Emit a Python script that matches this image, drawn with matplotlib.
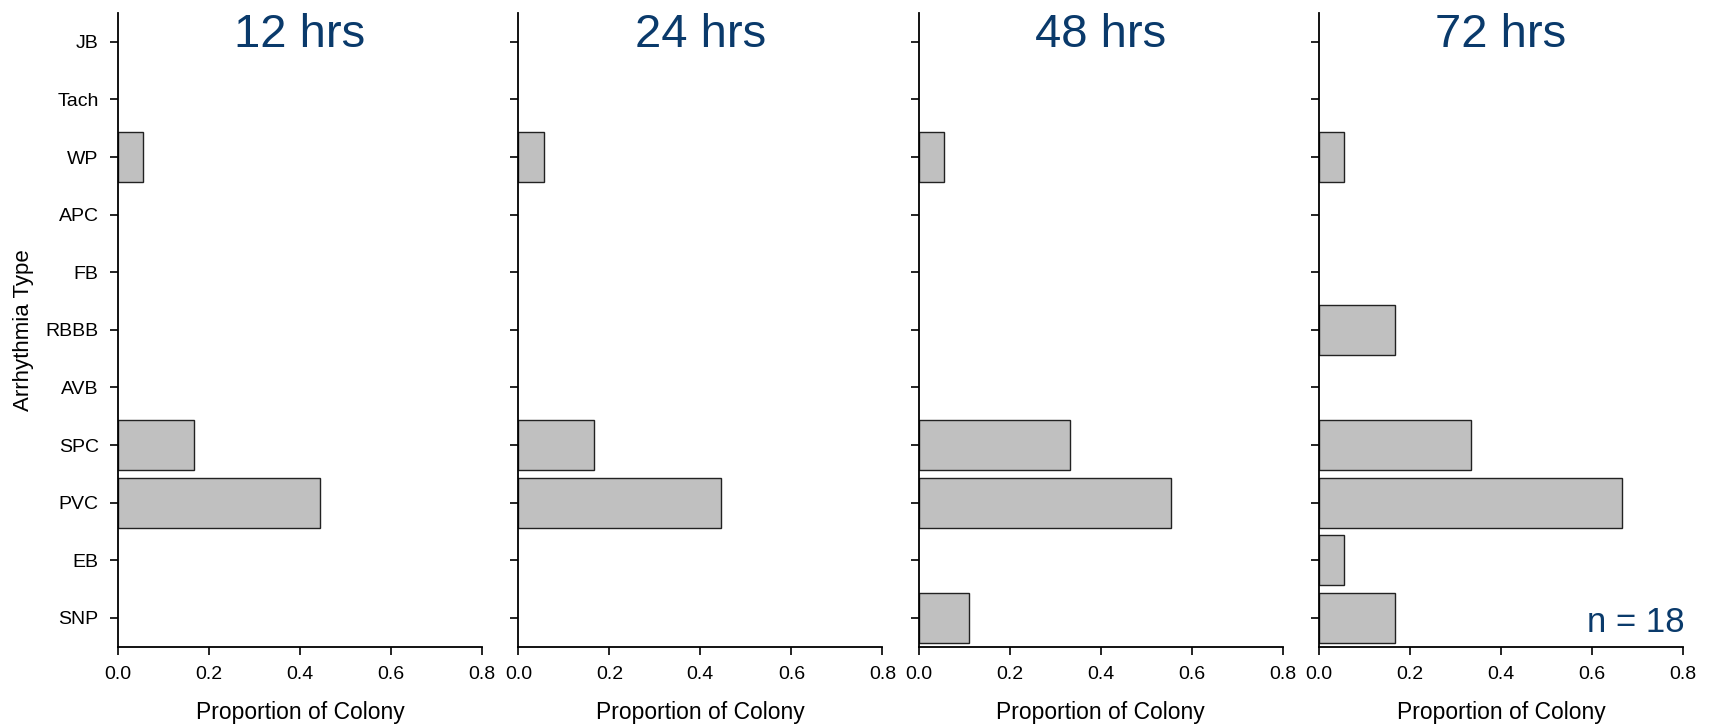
import matplotlib
matplotlib.use("Agg")
import matplotlib.pyplot as plt
import numpy as np

plt.rcParams["font.family"] = ["Liberation Sans", "DejaVu Sans"]
plt.rcParams['font.size'] = 14

N_COLONY = 18
categories = ["SNP", "EB", "PVC", "SPC", "AVB", "RBBB", "FB", "APC", "WP", "Tach", "JB"]
titles = ["12 hrs", "24 hrs", "48 hrs", "72 hrs"]

# proportion of colony, ordered as in categories (bottom to top)
prop_12 = [0, 0, 8/18, 3/18, 0, 0, 0, 0, 1/18, 0, 0]
prop_24 = [0, 0, 8/18, 3/18, 0, 0, 0, 0, 1/18, 0, 0]
prop_48 = [2/18, 0, 10/18, 6/18, 0, 0, 0, 0, 1/18, 0, 0]
prop_72 = [3/18, 1/18, 12/18, 6/18, 0, 3/18, 0, 0, 1/18, 0, 0]
x_ticks = [0.0, 0.2, 0.4, 0.6, 0.8]

TITLE_COLOR = "#0a3a6b"

fig, axs = plt.subplots(1, 4, figsize=(17.12, 7.25), dpi=100, sharey=True)
fig.subplots_adjust(left=0.069, right=0.983, top=0.982, bottom=0.108, wspace=0.1)

ypos = np.arange(len(categories))
for ax, vals, title in zip(axs, (prop_12, prop_24, prop_48, prop_72), titles):
    v = np.array(vals)
    mask = v > 0
    ax.barh(ypos[mask], v[mask], height=0.87, color="#c0c0c0", edgecolor="#222222", lw=1)
    ax.set_xlim(0, 0.8)
    ax.set_ylim(-0.5, 10.5)
    ax.set_xticks(x_ticks, [f"{t:.1f}" for t in x_ticks])
    ax.set_yticks(ypos, categories)
    ax.spines[['right', 'top']].set_visible(False)
    ax.spines[['left', 'bottom']].set_linewidth(1.3)
    ax.tick_params(axis='both', direction='out', length=6, width=1.2, labelsize=14, pad=8)
    ax.set_xlabel("Proportion of Colony", fontsize=16.5, labelpad=13)
    ax.text(0.5, 1.0, title, transform=ax.transAxes, ha='center', va='top',
            fontsize=34, color=TITLE_COLOR)

for ax in axs[1:]:
    ax.tick_params(axis='y', labelleft=False)

axs[0].set_ylabel("Arrhythmia Type", fontsize=16, labelpad=8)
axs[-1].text(1.005, 0.012, f"n = {N_COLONY}", transform=axs[-1].transAxes, ha='right', va='bottom',
             fontsize=25, color=TITLE_COLOR)

fig.savefig("out.png", dpi=100)
plt.close(fig)
